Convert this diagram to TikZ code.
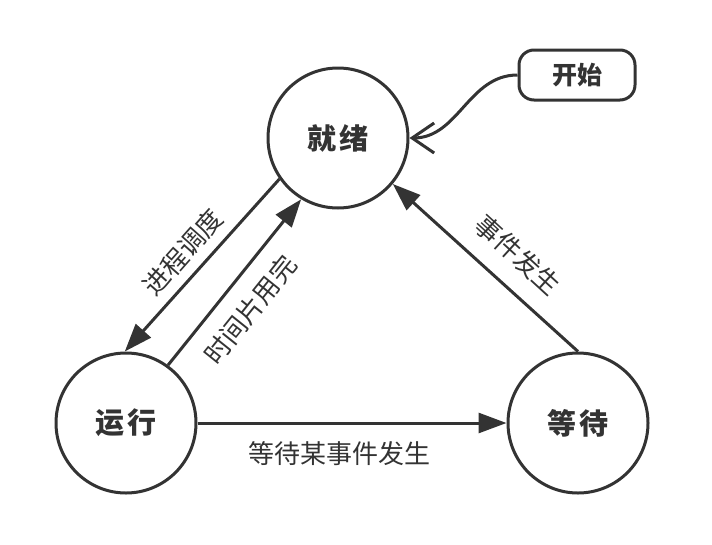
\documentclass[tikz,border=0pt]{standalone}
\usepackage{fontspec}
\setmainfont{Noto Sans CJK SC}
\usetikzlibrary{positioning}
\usetikzlibrary{arrows.meta}
\definecolor{ink}{HTML}{333333}

\begin{document}
\begin{tikzpicture}[x=1pt, y=-1pt,
  state/.style={circle, draw=ink, line width=3pt, minimum size=140pt, inner sep=0pt, text=ink, font=\fontsize{29}{29}\selectfont\bfseries},
  startbox/.style={rectangle, rounded corners=15pt, draw=ink, line width=3pt, minimum width=116pt, minimum height=50pt, text=ink, font=\fontsize{25}{25}\selectfont\bfseries},
  flow/.style={draw=ink, line width=3pt, -{Triangle[length=28pt,width=20pt]}},
  lbl/.style={text=ink, inner sep=0pt, font=\fontsize{26}{26}\selectfont}]

 \useasboundingbox (0,0) rectangle (712,544);

 %states
 \node[state] (ready) at (338,138) {就\hspace{3pt}绪};
 \node[state] (run) at (126,423) {运\hspace{3pt}行};
 \node[state] (wait) at (578,423) {等\hspace{3pt}待};
 \node[startbox] (start) at (577,75) {开始};

 %transitions
 \draw[flow] (ready.215) -- (run.91);
 \draw[flow] (run.54) -- (ready.239);
 \draw[flow] (wait.90) -- (ready.320);
 \draw[flow] (run.east) -- (wait.west);
 \draw[draw=ink, line width=3pt, -{Straight Barb[length=22pt,width=30pt]}] (start.west) to[out=180, in=0] (ready.0);

 %labels
 \node[lbl, rotate=48.5] (sched) at (183,252) {进程调度};
 \node[lbl, rotate=51.3] (slice) at (250,310) {时间片用完};
 \node[lbl, rotate=-42.5] (event) at (518,255) {事件发生};
 \node[lbl] (waitev) at (339,454) {等待某事件发生};

\end{tikzpicture}
\end{document}
